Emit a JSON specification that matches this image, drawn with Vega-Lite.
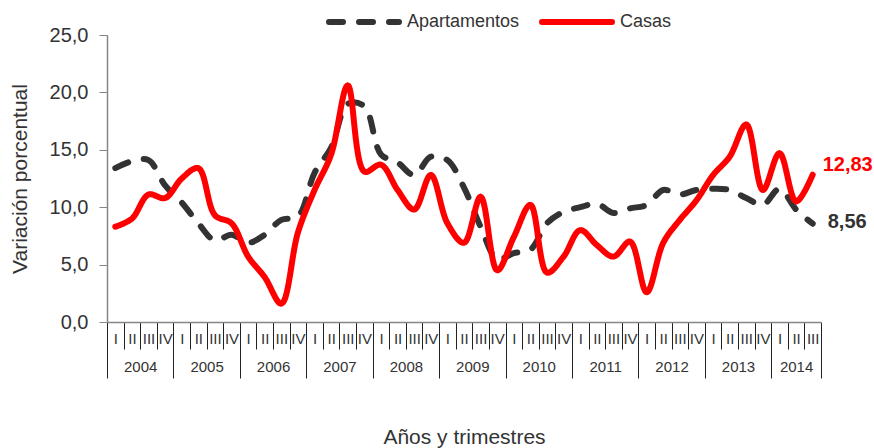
{
  "$schema": "https://vega.github.io/schema/vega-lite/v6.json",
  "width": 714,
  "height": 287,
  "autosize": "none",
  "padding": {"left": 107, "top": 35, "right": 53, "bottom": 126},
  "background": "white",
  "config": {
    "view": {"stroke": null},
    "font": "Liberation Sans",
    "locale": {"number": {"decimal": ",", "thousands": ".", "grouping": [3], "currency": ["", " €"]}}
  },
  "datasets": {
    "series": [
      {"serie": "Apartamentos", "t": 2004.125, "v": 13.4}, {"serie": "Apartamentos", "t": 2004.375, "v": 14.0}, {"serie": "Apartamentos", "t": 2004.625, "v": 14.1}, {"serie": "Apartamentos", "t": 2004.875, "v": 11.9},
      {"serie": "Apartamentos", "t": 2005.125, "v": 10.4}, {"serie": "Apartamentos", "t": 2005.375, "v": 8.6}, {"serie": "Apartamentos", "t": 2005.625, "v": 7.1}, {"serie": "Apartamentos", "t": 2005.875, "v": 7.6},
      {"serie": "Apartamentos", "t": 2006.125, "v": 6.9}, {"serie": "Apartamentos", "t": 2006.375, "v": 7.6}, {"serie": "Apartamentos", "t": 2006.625, "v": 8.9}, {"serie": "Apartamentos", "t": 2006.875, "v": 9.2},
      {"serie": "Apartamentos", "t": 2007.125, "v": 13.0}, {"serie": "Apartamentos", "t": 2007.375, "v": 15.2}, {"serie": "Apartamentos", "t": 2007.625, "v": 19.0}, {"serie": "Apartamentos", "t": 2007.875, "v": 18.8},
      {"serie": "Apartamentos", "t": 2008.125, "v": 14.6}, {"serie": "Apartamentos", "t": 2008.375, "v": 13.9}, {"serie": "Apartamentos", "t": 2008.625, "v": 12.8}, {"serie": "Apartamentos", "t": 2008.875, "v": 14.4},
      {"serie": "Apartamentos", "t": 2009.125, "v": 14.1}, {"serie": "Apartamentos", "t": 2009.375, "v": 11.7}, {"serie": "Apartamentos", "t": 2009.625, "v": 8.3}, {"serie": "Apartamentos", "t": 2009.875, "v": 5.5},
      {"serie": "Apartamentos", "t": 2010.125, "v": 6.0}, {"serie": "Apartamentos", "t": 2010.375, "v": 6.3}, {"serie": "Apartamentos", "t": 2010.625, "v": 8.6}, {"serie": "Apartamentos", "t": 2010.875, "v": 9.6},
      {"serie": "Apartamentos", "t": 2011.125, "v": 10.0}, {"serie": "Apartamentos", "t": 2011.375, "v": 10.3}, {"serie": "Apartamentos", "t": 2011.625, "v": 9.5}, {"serie": "Apartamentos", "t": 2011.875, "v": 9.9},
      {"serie": "Apartamentos", "t": 2012.125, "v": 10.2}, {"serie": "Apartamentos", "t": 2012.375, "v": 11.5}, {"serie": "Apartamentos", "t": 2012.625, "v": 11.1}, {"serie": "Apartamentos", "t": 2012.875, "v": 11.5},
      {"serie": "Apartamentos", "t": 2013.125, "v": 11.6}, {"serie": "Apartamentos", "t": 2013.375, "v": 11.5}, {"serie": "Apartamentos", "t": 2013.625, "v": 10.8}, {"serie": "Apartamentos", "t": 2013.875, "v": 10.2},
      {"serie": "Apartamentos", "t": 2014.125, "v": 11.6}, {"serie": "Apartamentos", "t": 2014.375, "v": 9.8}, {"serie": "Apartamentos", "t": 2014.625, "v": 8.56},
      {"serie": "Casas", "t": 2004.125, "v": 8.3}, {"serie": "Casas", "t": 2004.375, "v": 9.0}, {"serie": "Casas", "t": 2004.625, "v": 11.1}, {"serie": "Casas", "t": 2004.875, "v": 10.8},
      {"serie": "Casas", "t": 2005.125, "v": 12.5}, {"serie": "Casas", "t": 2005.375, "v": 13.4}, {"serie": "Casas", "t": 2005.625, "v": 9.3}, {"serie": "Casas", "t": 2005.875, "v": 8.6},
      {"serie": "Casas", "t": 2006.125, "v": 5.7}, {"serie": "Casas", "t": 2006.375, "v": 3.9}, {"serie": "Casas", "t": 2006.625, "v": 1.6}, {"serie": "Casas", "t": 2006.875, "v": 7.8},
      {"serie": "Casas", "t": 2007.125, "v": 11.5}, {"serie": "Casas", "t": 2007.375, "v": 14.6}, {"serie": "Casas", "t": 2007.625, "v": 20.6}, {"serie": "Casas", "t": 2007.875, "v": 13.1},
      {"serie": "Casas", "t": 2008.125, "v": 13.7}, {"serie": "Casas", "t": 2008.375, "v": 11.5}, {"serie": "Casas", "t": 2008.625, "v": 9.8}, {"serie": "Casas", "t": 2008.875, "v": 12.8},
      {"serie": "Casas", "t": 2009.125, "v": 8.6}, {"serie": "Casas", "t": 2009.375, "v": 6.9}, {"serie": "Casas", "t": 2009.625, "v": 10.9}, {"serie": "Casas", "t": 2009.875, "v": 4.5},
      {"serie": "Casas", "t": 2010.125, "v": 7.4}, {"serie": "Casas", "t": 2010.375, "v": 10.2}, {"serie": "Casas", "t": 2010.625, "v": 4.3}, {"serie": "Casas", "t": 2010.875, "v": 5.7},
      {"serie": "Casas", "t": 2011.125, "v": 8.0}, {"serie": "Casas", "t": 2011.375, "v": 6.7}, {"serie": "Casas", "t": 2011.625, "v": 5.7}, {"serie": "Casas", "t": 2011.875, "v": 7.0},
      {"serie": "Casas", "t": 2012.125, "v": 2.6}, {"serie": "Casas", "t": 2012.375, "v": 6.9}, {"serie": "Casas", "t": 2012.625, "v": 8.9}, {"serie": "Casas", "t": 2012.875, "v": 10.6},
      {"serie": "Casas", "t": 2013.125, "v": 12.8}, {"serie": "Casas", "t": 2013.375, "v": 14.4}, {"serie": "Casas", "t": 2013.625, "v": 17.2}, {"serie": "Casas", "t": 2013.875, "v": 11.5},
      {"serie": "Casas", "t": 2014.125, "v": 14.7}, {"serie": "Casas", "t": 2014.375, "v": 10.5}, {"serie": "Casas", "t": 2014.625, "v": 12.83}
    ]
  },
  "data": {"name": "series"},
  "resolve": {"axis": {"x": "independent"}},
  "layer": [
    {
      "mark": {"type": "line", "interpolate": "catmull-rom", "strokeWidth": 6, "strokeCap": "round", "strokeJoin": "round"},
      "encoding": {
        "x": {
          "field": "t", "type": "quantitative",
          "scale": {"domain": [2004, 2014.75], "nice": false, "zero": false},
          "axis": {
            "orient": "bottom",
            "title": null,
            "grid": false,
            "values": [2004, 2004.25, 2004.5, 2004.75, 2005, 2005.25, 2005.5, 2005.75, 2006, 2006.25, 2006.5, 2006.75, 2007, 2007.25, 2007.5, 2007.75, 2008, 2008.25, 2008.5, 2008.75, 2009, 2009.25, 2009.5, 2009.75, 2010, 2010.25, 2010.5, 2010.75, 2011, 2011.25, 2011.5, 2011.75, 2012, 2012.25, 2012.5, 2012.75, 2013, 2013.25, 2013.5, 2013.75, 2014, 2014.25, 2014.5, 2014.75,
              2004.125, 2004.375, 2004.625, 2004.875, 2005.125, 2005.375, 2005.625, 2005.875, 2006.125, 2006.375, 2006.625, 2006.875, 2007.125, 2007.375, 2007.625, 2007.875, 2008.125, 2008.375, 2008.625, 2008.875, 2009.125, 2009.375, 2009.625, 2009.875, 2010.125, 2010.375, 2010.625, 2010.875, 2011.125, 2011.375, 2011.625, 2011.875, 2012.125, 2012.375, 2012.625, 2012.875, 2013.125, 2013.375, 2013.625, 2013.875, 2014.125, 2014.375, 2014.625],
            "labelExpr": "(datum.value * 4) % 1 == 0 ? '' : ['I','II','III','IV'][floor((datum.value - floor(datum.value)) * 4)]",
            "tickSize": {"condition": [{"test": "(datum.value * 4) % 1 != 0", "value": 0}, {"test": "datum.value % 1 == 0 || datum.value == 2014.75", "value": 56}], "value": 27},
            "tickColor": "#222222",
            "tickWidth": 1,
            "domainColor": "#868686",
            "domainWidth": 1.5,
            "labelPadding": 9,
            "labelFontSize": 15,
            "labelColor": "#333333",
            "labelOverlap": false,
            "labelFlush": false,
            "labelBound": false
          }
        },
        "y": {
          "field": "v", "type": "quantitative",
          "scale": {"domain": [0, 25], "nice": false},
          "axis": {
            "values": [0, 5, 10, 15, 20, 25],
            "format": ".1f",
            "title": "Variación porcentual",
            "grid": false,
            "domainColor": "#868686",
            "domainWidth": 1.5,
            "tickColor": "#868686",
            "tickSize": 8,
            "labelPadding": 11,
            "labelFontSize": 20,
            "labelColor": "#333333",
            "titleFontSize": 21,
            "titleFontWeight": "normal",
            "titleColor": "#333333",
            "titlePadding": 19
          }
        },
        "color": {
          "field": "serie", "type": "nominal",
          "scale": {"domain": ["Apartamentos", "Casas"], "range": ["#333333", "#FF0000"]},
          "legend": {
            "title": null, "orient": "none", "direction": "horizontal", "legendX": 219, "legendY": -51,
            "padding": 0, "symbolType": "stroke", "symbolSize": 4900, "symbolStrokeWidth": 6,
            "labelFontSize": 18, "labelColor": "#333333", "labelOffset": 5, "columnPadding": 10,
            "encode": {"symbols": {"update": {"strokeDash": {"signal": "datum.label === 'Apartamentos' ? [12, 7] : [1, 0]"}, "strokeCap": {"value": "round"}}}}
          }
        },
        "strokeDash": {
          "field": "serie", "type": "nominal",
          "scale": {"domain": ["Apartamentos", "Casas"], "range": [[14, 16], [1, 0]]},
          "legend": {
            "title": null, "orient": "none", "direction": "horizontal", "legendX": 219, "legendY": -51,
            "padding": 0, "symbolType": "stroke", "symbolSize": 4900, "symbolStrokeWidth": 6,
            "labelFontSize": 18, "labelColor": "#333333", "labelOffset": 5, "columnPadding": 10,
            "encode": {"symbols": {"update": {"strokeDash": {"signal": "datum.label === 'Apartamentos' ? [12, 7] : [1, 0]"}, "strokeCap": {"value": "round"}}}}
          }
        }
      }
    },
    {
      "transform": [{"filter": "datum.serie === 'Casas' && datum.t == 2014.625"}],
      "mark": {"type": "text", "align": "left", "baseline": "middle", "dx": 10, "dy": -10, "fontSize": 20, "fontWeight": "bold", "color": "#FF0000"},
      "encoding": {
        "x": {
          "field": "t", "type": "quantitative",
          "axis": {
            "orient": "bottom",
            "values": [2004.5, 2005.5, 2006.5, 2007.5, 2008.5, 2009.5, 2010.5, 2011.5, 2012.5, 2013.5, 2014.375],
            "labelExpr": "'' + floor(datum.value)",
            "ticks": false,
            "domain": false,
            "grid": false,
            "labelPadding": 37,
            "labelFontSize": 15,
            "labelColor": "#333333",
            "labelOverlap": false,
            "labelFlush": false,
            "labelBound": false,
            "title": "Años y trimestres",
            "titleFontSize": 21,
            "titleFontWeight": "normal",
            "titleColor": "#333333",
            "titlePadding": 52
          }
        },
        "y": {"field": "v", "type": "quantitative"},
        "text": {"field": "v", "type": "quantitative", "format": ".2f"}
      }
    },
    {
      "transform": [{"filter": "datum.serie === 'Apartamentos' && datum.t == 2014.625"}],
      "mark": {"type": "text", "align": "left", "baseline": "middle", "dx": 15, "dy": -2, "fontSize": 20, "fontWeight": "bold", "color": "#333333"},
      "encoding": {
        "x": {"field": "t", "type": "quantitative", "axis": null},
        "y": {"field": "v", "type": "quantitative"},
        "text": {"field": "v", "type": "quantitative", "format": ".2f"}
      }
    }
  ]
}
